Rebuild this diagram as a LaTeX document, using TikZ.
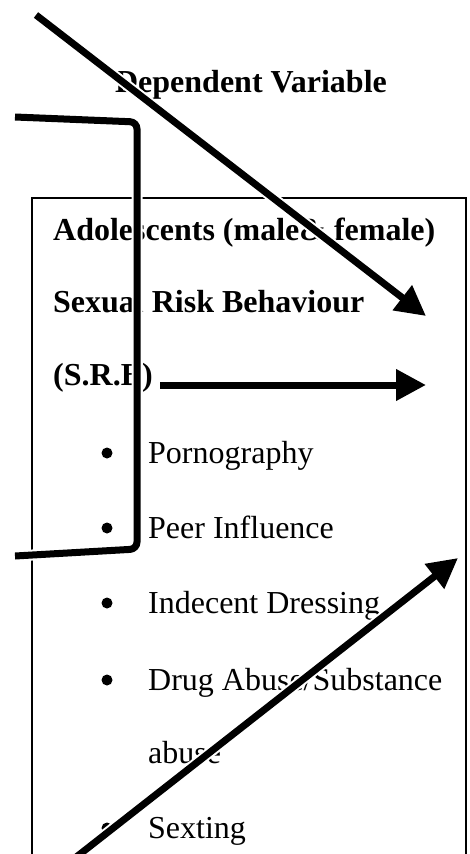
\documentclass[tikz,border=0pt]{standalone}
\usepackage{fontspec}
\setmainfont{Liberation Serif}
\usetikzlibrary{arrows.meta}
\begin{document}
\begin{tikzpicture}[x=1pt,y=-1pt,
  txt/.style={anchor=base west, inner sep=0pt, font=\fontsize{32}{38}\selectfont},
  btxt/.style={anchor=base west, inner sep=0pt, font=\fontsize{32}{38}\selectfont\bfseries},
  bul/.style={circle, fill=black, inner sep=0pt, minimum size=11pt},
  heavy/.style={line width=7pt, line cap=butt},
  halo/.style={line width=11pt, white},
  arr/.style={line width=7pt, -{Triangle[length=30pt,width=30pt]}},
  frame/.style={draw, line width=1.5pt}]
\useasboundingbox (0,0) rectangle (469,854);
\fill[white] (0,0) rectangle (469,854);

% frame (open at the bottom, continues below the picture)
\coordinate (fbl) at (32,870);
\coordinate (ftl) at (32,198);
\coordinate (ftr) at (466,198);
\coordinate (fbr) at (466,870);
\draw[frame] (fbl) -- (ftl) -- (ftr) -- (fbr);

% title
\node[btxt, anchor=base] (title) at (251,92) {Dependent Variable};

% box text
\node[btxt] (t1) at (53,240) {Adolescents (male\& female)};
\node[btxt] (t2) at (53,312) {Sexual Risk Behaviour};
\node[btxt] (t3) at (53,385) {(S.R.B)};

\node[txt] (i1) at (148,463) {Pornography};
\node[txt] (i2) at (148,538) {Peer Influence};
\node[txt] (i3) at (148,613) {Indecent Dressing};
\node[txt] (i4) at (148,690) {Drug Abuse/Substance};
\node[txt] (i4b) at (148,763) {abuse};
\node[txt] (i5) at (148,838) {Sexting};

\node[bul] (b1) at (107,453) {};
\node[bul] (b2) at (107,528) {};
\node[bul] (b3) at (107,603) {};
\node[bul] (b4) at (107,680) {};
\node[bul] (b5) at (107,828) {};

% bracket
\coordinate (k1) at (15,117);
\coordinate (k2) at (137,122);
\coordinate (k3) at (137,549);
\coordinate (k4) at (15,556);
\draw[halo, rounded corners=7pt] (k1) -- (k2) -- (k3) -- (k4);
\draw[heavy, rounded corners=7pt] (k1) -- (k2) -- (k3) -- (k4);

% arrows
\coordinate (a1s) at (36,15);
\coordinate (a1e) at (426,316);
\coordinate (a2s) at (160,385);
\coordinate (a2e) at (426,385);
\coordinate (a3s) at (75,858);
\coordinate (a3e) at (458,558);

\draw[halo, shorten >=22pt] (a1s) -- (a1e);
\draw[halo, shorten >=22pt] (a2s) -- (a2e);
\draw[halo, shorten >=22pt] (a3s) -- (a3e);
\draw[arr] (a1s) -- (a1e);
\draw[arr] (a2s) -- (a2e);
\draw[arr] (a3s) -- (a3e);
\end{tikzpicture}
\end{document}
